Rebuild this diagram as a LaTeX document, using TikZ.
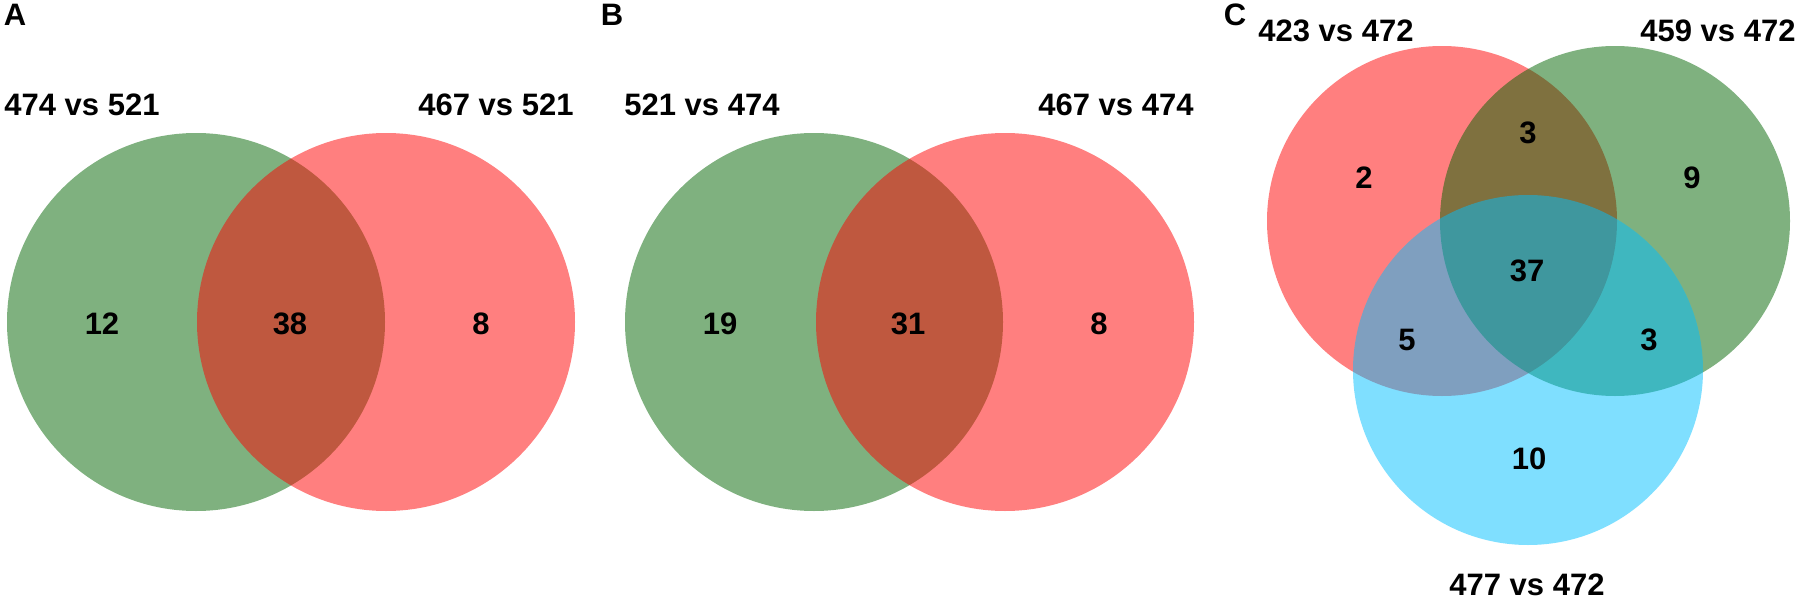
\documentclass[tikz,border=0pt]{standalone}
\usepackage{fontspec}
\setmainfont{Liberation Sans}
\definecolor{vgreen}{RGB}{0,100,0}
\definecolor{vred}{RGB}{255,0,0}
\definecolor{vblue}{RGB}{0,191,255}
\tikzset{
  setfill/.style={fill=#1, fill opacity=0.5, draw=none},
  lab/.style={font=\fontsize{15.5}{18}\selectfont\bfseries, inner sep=0pt},
  num/.style={font=\fontsize{15.5}{18}\selectfont\bfseries, inner sep=0pt},
  panel/.style={font=\fontsize{15.5}{18}\selectfont\bfseries, inner sep=0pt},
}
\begin{document}
\begin{tikzpicture}[x=0.5pt,y=-0.5pt]
\useasboundingbox (0,0) rectangle (1800,605);
% Panel A
\fill[setfill=vgreen] (196,322) circle[radius=189];
\fill[setfill=vred] (386,322) circle[radius=189];
\node[panel] (pA) at (15,15) {A};
\node[lab] (lA1) at (82,105) {474 vs 521};
\node[lab] (lA2) at (496,105) {467 vs 521};
\node[num] (nA1) at (102,324) {12};
\node[num] (nA2) at (290,324) {38};
\node[num] (nA3) at (481,324) {8};
% Panel B
\fill[setfill=vgreen] (814,322) circle[radius=189];
\fill[setfill=vred] (1005,322) circle[radius=189];
\node[panel] (pB) at (612,15) {B};
\node[lab] (lB1) at (702,105) {521 vs 474};
\node[lab] (lB2) at (1116,105) {467 vs 474};
\node[num] (nB1) at (720,324) {19};
\node[num] (nB2) at (908,324) {31};
\node[num] (nB3) at (1099,324) {8};
% Panel C
\fill[setfill=vred] (1442,221) circle[radius=175];
\fill[setfill=vgreen] (1615,221) circle[radius=175];
\fill[setfill=vblue] (1528,370) circle[radius=175];
\node[panel] (pC) at (1235,15) {C};
\node[lab] (lC1) at (1336,31) {423 vs 472};
\node[lab] (lC2) at (1718,31) {459 vs 472};
\node[lab] (lC3) at (1527,585) {477 vs 472};
\node[num] (nC1) at (1364,178) {2};
\node[num] (nC2) at (1528,133) {3};
\node[num] (nC3) at (1692,178) {9};
\node[num] (nC4) at (1527,271) {37};
\node[num] (nC5) at (1407,340) {5};
\node[num] (nC6) at (1649,340) {3};
\node[num] (nC7) at (1529,459) {10};
\end{tikzpicture}
\end{document}
